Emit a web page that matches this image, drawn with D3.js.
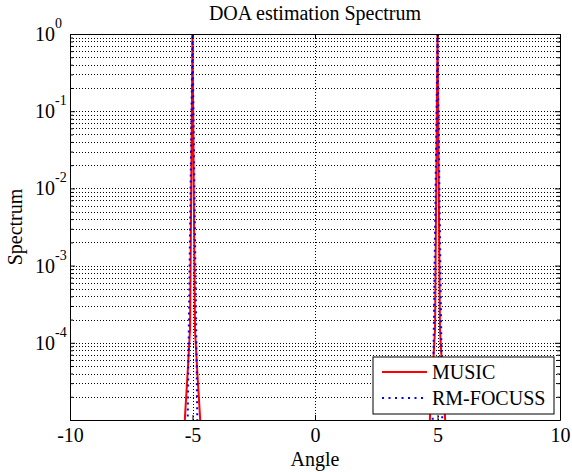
<!DOCTYPE html>
<html>
<head>
<meta charset="utf-8">
<script src="https://cdn.jsdelivr.net/npm/d3@7"></script>
<style>
  body { margin: 0; background: #fff; }
  svg { font-family: "Liberation Serif", "Times New Roman", serif; }
</style>
</head>
<body>
<div id="plot"></div>
<script>
// data
const musicAngle = [-10, -5.4, -5.3, -5.2, -5.1, -5.0, -4.9, -4.8, -4.7, -4.6, 0, 4.6, 4.7, 4.8, 4.9, 5.0, 5.1, 5.2, 5.3, 5.4, 10];
const musicValue = [1e-8, 3e-6, 1.2e-5, 4e-5, 1.5e-4, 1, 1.5e-4, 4e-5, 1.2e-5, 3e-6, 1e-8, 3e-6, 1.2e-5, 4e-5, 1.5e-4, 1, 1.5e-4, 4e-5, 1.2e-5, 3e-6, 1e-8];
const focussAngle = [-10, -5.2, -5.0, -4.8, 0, 4.8, 5.0, 5.2, 10];
const focussValue = [1e-8, 8e-6, 1, 8e-6, 1e-8, 8e-6, 1, 8e-6, 1e-8];

const xTicks = [-10, -5, 0, 5, 10];
const yTicks = [1, 1e-1, 1e-2, 1e-3, 1e-4, 1e-5];
const yLabelExp = [0, -1, -2, -3, -4];

const W = 572, H = 472;
const m = {left: 70, top: 34, right: 12, bottom: 52};
const w = W - m.left - m.right;   // 490
const h = H - m.top - m.bottom;   // 386

const svg = d3.select('#plot').append('svg').attr('width', W).attr('height', H);
const g = svg.append('g').attr('transform', `translate(${m.left},${m.top})`);

const x = d3.scaleLinear().domain([-10, 10]).range([0, w]);
const y = d3.scaleLog().domain([1e-5, 1]).range([h, 0]);

// minor + major values for the log grid
let yMinor = [];
for (let e = -5; e < 0; e++) {
  for (let k = 2; k <= 9; k++) yMinor.push(k * Math.pow(10, e));
}

//grid lines
const dots = '1,2';
g.append('g')
  .call(d3.axisLeft(y).tickValues(yMinor.concat(yTicks.slice(1, 5))).tickSize(-w).tickFormat(''))
  .call(a => a.select('.domain').remove())
  .selectAll('line').attr('stroke', '#000').attr('stroke-width', 1)
  .attr('stroke-dasharray', dots).attr('shape-rendering', 'crispEdges');
g.append('g')
  .attr('transform', `translate(0,${h})`)
  .call(d3.axisBottom(x).tickValues(xTicks.slice(1, 4)).tickSize(-h).tickFormat(''))
  .call(a => a.select('.domain').remove())
  .selectAll('line').attr('stroke', '#000').attr('stroke-width', 1)
  .attr('stroke-dasharray', dots).attr('shape-rendering', 'crispEdges');

// lines
svg.append('clipPath').attr('id', 'clip')
  .append('rect').attr('width', w).attr('height', h);

const line = d3.line().x(d => x(d[0])).y(d => y(d[1]));
const plotArea = g.append('g').attr('clip-path', 'url(#clip)');

plotArea.append('path')
  .datum(musicAngle.map((a, i) => [a, musicValue[i]]))
  .attr('d', line)
  .attr('fill', 'none').attr('stroke', '#ff0000').attr('stroke-width', 2);

plotArea.append('path')
  .datum(focussAngle.map((a, i) => [a, focussValue[i]]))
  .attr('d', line)
  .attr('fill', 'none').attr('stroke', '#0000ff').attr('stroke-width', 2)
  .attr('stroke-dasharray', '2,4');

// axes (ticks inside, box on)
const axStyle = a => {
  a.selectAll('line').attr('stroke', '#000');
  a.select('.domain').attr('stroke', '#000');
  a.selectAll('text').attr('fill', '#000').style('font-size', '20px').style('font-family', '"Liberation Serif", serif');
};

g.append('g')
  .attr('transform', `translate(0,${h})`)
  .call(d3.axisBottom(x).tickValues(xTicks).tickSize(-5).tickSizeOuter(0).tickPadding(8).tickFormat(d => String(d)))
  .call(axStyle);
g.append('g')
  .call(d3.axisTop(x).tickValues(xTicks).tickSize(-5).tickSizeOuter(0).tickFormat(''))
  .call(axStyle);
g.append('g')
  .call(d3.axisLeft(y).tickValues(yTicks).tickSize(-5).tickSizeOuter(0).tickFormat(''))
  .call(axStyle);
g.append('g')
  .attr('transform', `translate(${w},0)`)
  .call(d3.axisRight(y).tickValues(yTicks).tickSize(-5).tickSizeOuter(0).tickFormat(''))
  .call(axStyle);
// minor ticks
g.append('g')
  .call(d3.axisLeft(y).tickValues(yMinor).tickSize(-3).tickSizeOuter(0).tickFormat(''))
  .call(axStyle).call(a => a.select('.domain').remove());
g.append('g')
  .attr('transform', `translate(${w},0)`)
  .call(d3.axisRight(y).tickValues(yMinor).tickSize(-3).tickSizeOuter(0).tickFormat(''))
  .call(axStyle).call(a => a.select('.domain').remove());

// y labels 10^n
const yl = g.append('g').selectAll('text')
  .data(yLabelExp)
  .join('text')
  .attr('x', -35)
  .attr('y', d => y(Math.pow(10, d)) + 7)
  .style('font-size', '20px');
yl.append('tspan').text('10');
yl.append('tspan').attr('dy', -13).style('font-size', '14px').text(d => d === 0 ? '0' : '-' + Math.abs(d));

// titles
svg.append('text').attr('x', m.left + w / 2).attr('y', 20).attr('text-anchor', 'middle')
  .style('font-size', '20px').text('DOA estimation Spectrum');
svg.append('text').attr('x', m.left + w / 2).attr('y', 466).attr('text-anchor', 'middle')
  .style('font-size', '20px').text('Angle');
svg.append('text').attr('transform', `translate(21.5,${m.top + h / 2}) rotate(-90)`).attr('text-anchor', 'middle')
  .style('font-size', '20px').text('Spectrum');

// legend
const lg = svg.append('g').attr('transform', 'translate(373,357)');
lg.append('rect').attr('width', 181).attr('height', 57)
  .attr('fill', '#fff').attr('stroke', '#000').attr('stroke-width', 1);
const items = [
  {name: 'MUSIC', color: '#ff0000', dash: null},
  {name: 'RM-FOCUSS', color: '#0000ff', dash: '2,4.5'}
];
items.forEach((d, i) => {
  const cy = 15 + i * 26;
  lg.append('line').attr('x1', 9).attr('x2', 54).attr('y1', cy).attr('y2', cy)
    .attr('stroke', d.color).attr('stroke-width', 2).attr('stroke-dasharray', d.dash);
  lg.append('text').attr('x', 59).attr('y', cy + 7).style('font-size', '20px').text(d.name);
});
</script>
</body>
</html>
